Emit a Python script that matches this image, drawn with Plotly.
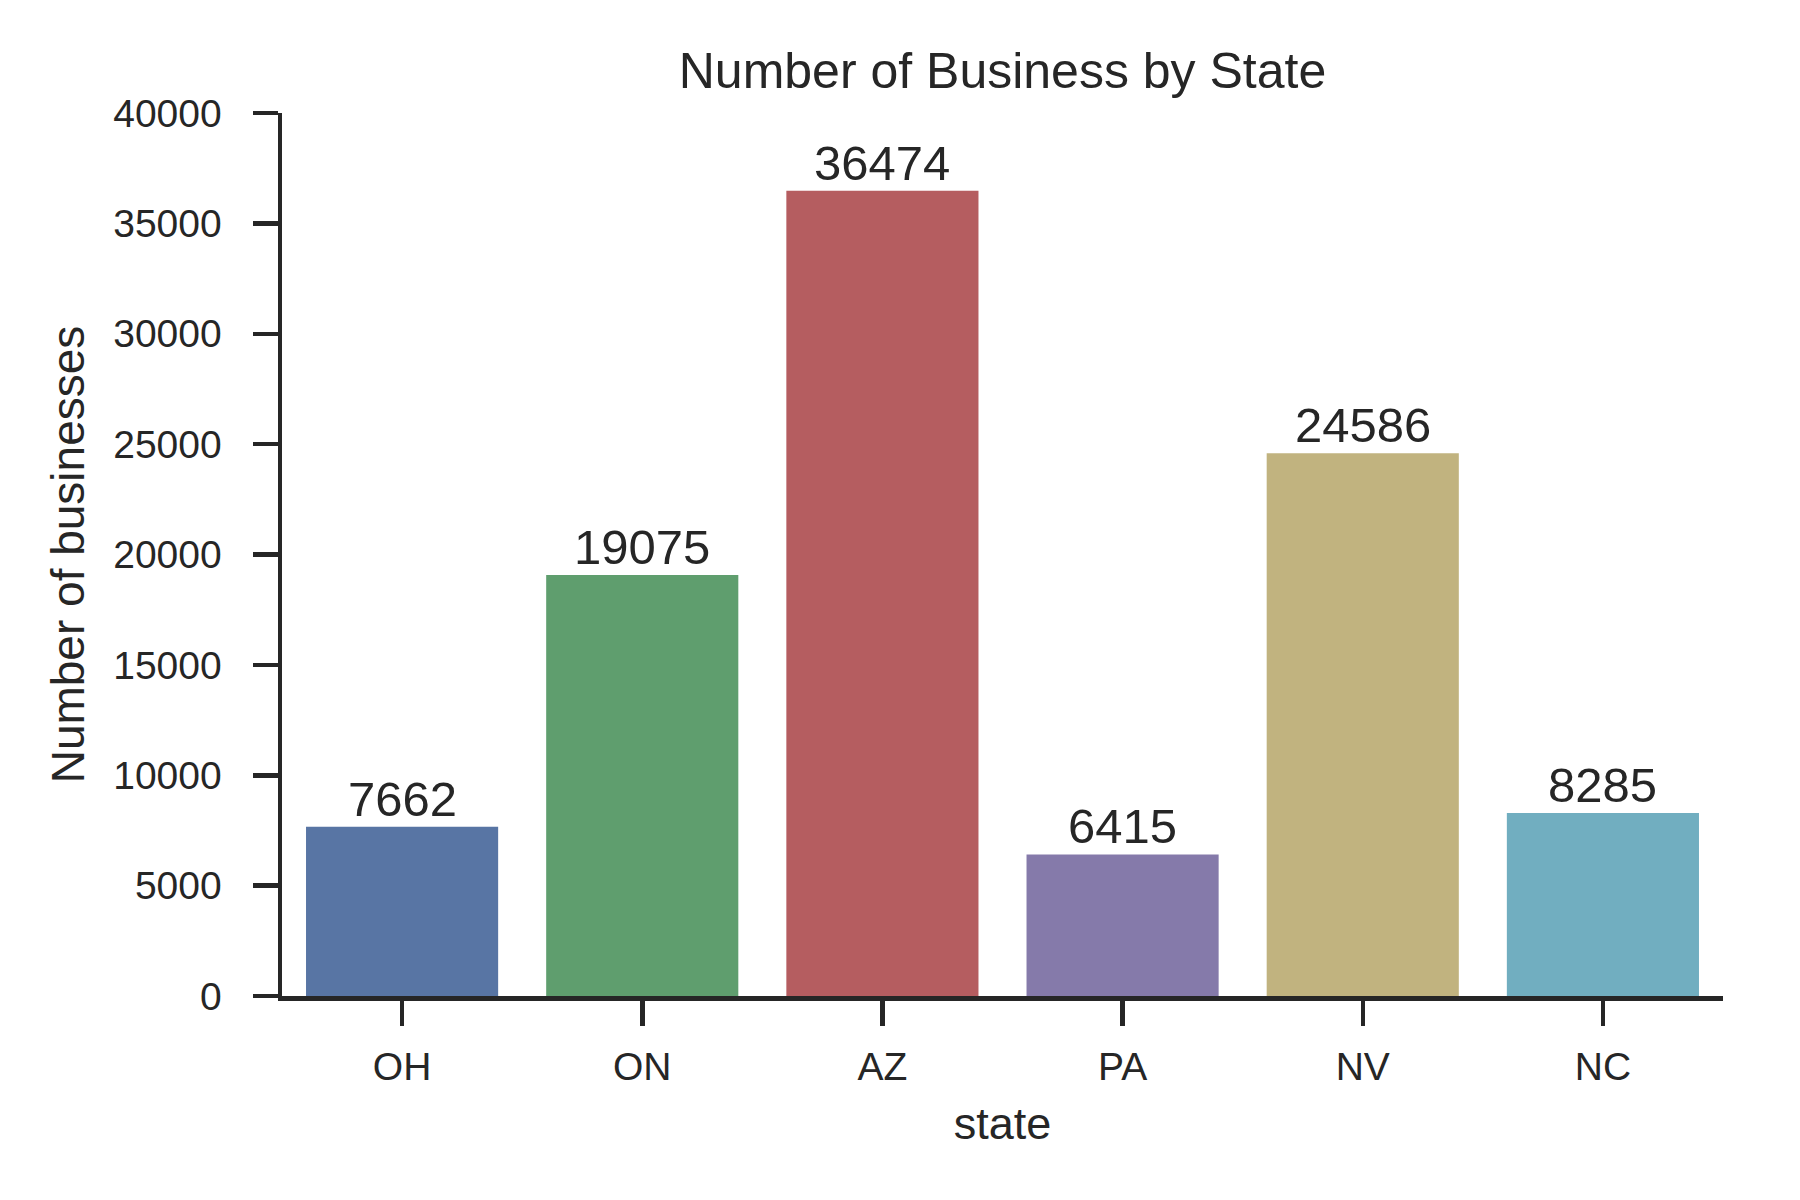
import colorsys
import plotly.graph_objects as go

states = ["OH", "ON", "AZ", "PA", "NV", "NC"]
counts = [7662, 19075, 36474, 6415, 24586, 8285]
y_ticks = [0, 5000, 10000, 15000, 20000, 25000, 30000, 35000, 40000]

deep = ["#4C72B0", "#55A868", "#C44E52", "#8172B2", "#CCB974", "#64B5CD"]


def desaturate(hexcol, prop=0.75):
    r, g, b = (int(hexcol[i:i + 2], 16) / 255 for i in (1, 3, 5))
    h, l, s = colorsys.rgb_to_hls(r, g, b)
    r, g, b = colorsys.hls_to_rgb(h, l, s * prop)
    return "#%02x%02x%02x" % (round(r * 255), round(g * 255), round(b * 255))


colors = [desaturate(c) for c in deep]
TXT = "#262626"
FONT = "Liberation Sans, Arial, sans-serif"

fig = go.Figure(
    go.Bar(
        x=states,
        y=counts,
        marker=dict(color=colors, line=dict(width=0)),
        width=0.8,
        cliponaxis=False,
        hoverinfo="skip",
    )
)

for s, v in zip(states, counts):
    fig.add_annotation(
        x=s, y=v, text=str(v), showarrow=False,
        xanchor="center", yanchor="bottom", yshift=-1,
        font=dict(size=49, color=TXT, family=FONT),
    )

fig.update_layout(
    width=1800,
    height=1200,
    paper_bgcolor="white",
    plot_bgcolor="white",
    margin=dict(l=282, r=77, t=113, b=204, autoexpand=False),
    font=dict(family=FONT, color=TXT, size=39),
    showlegend=False,
    hovermode=False,
    title=dict(
        text="Number of Business by State",
        x=0.5,
        xanchor="center",
        xref="paper",
        y=1 - 70 / 1200,
        yanchor="middle",
        font=dict(size=50, color=TXT, family=FONT),
    ),
)

fig.update_xaxes(
    range=[-0.5, 5.5],
    showline=True,
    linecolor=TXT,
    linewidth=4.5,
    ticks="outside",
    ticklen=25,
    tickwidth=4.5,
    tickcolor=TXT,
    tickfont=dict(size=39, color=TXT),
    showgrid=False,
    zeroline=False,
    ticklabelstandoff=8,
    title=dict(text="state", font=dict(size=45, color=TXT), standoff=21),
)

fig.update_yaxes(
    range=[0, 40000],
    tickvals=y_ticks,
    ticktext=[str(v) for v in y_ticks],
    showline=True,
    linecolor=TXT,
    linewidth=4.5,
    ticks="outside",
    ticklen=25,
    tickwidth=4.5,
    tickcolor=TXT,
    tickfont=dict(size=39, color=TXT),
    showgrid=False,
    zeroline=False,
    ticklabelstandoff=23,
    title=dict(text="Number of businesses", font=dict(size=46, color=TXT), standoff=15),
)

fig.write_html(
    "out.html",
    config={"displayModeBar": False, "staticPlot": True},
    post_script="document.body.style.margin='0px';",
)
